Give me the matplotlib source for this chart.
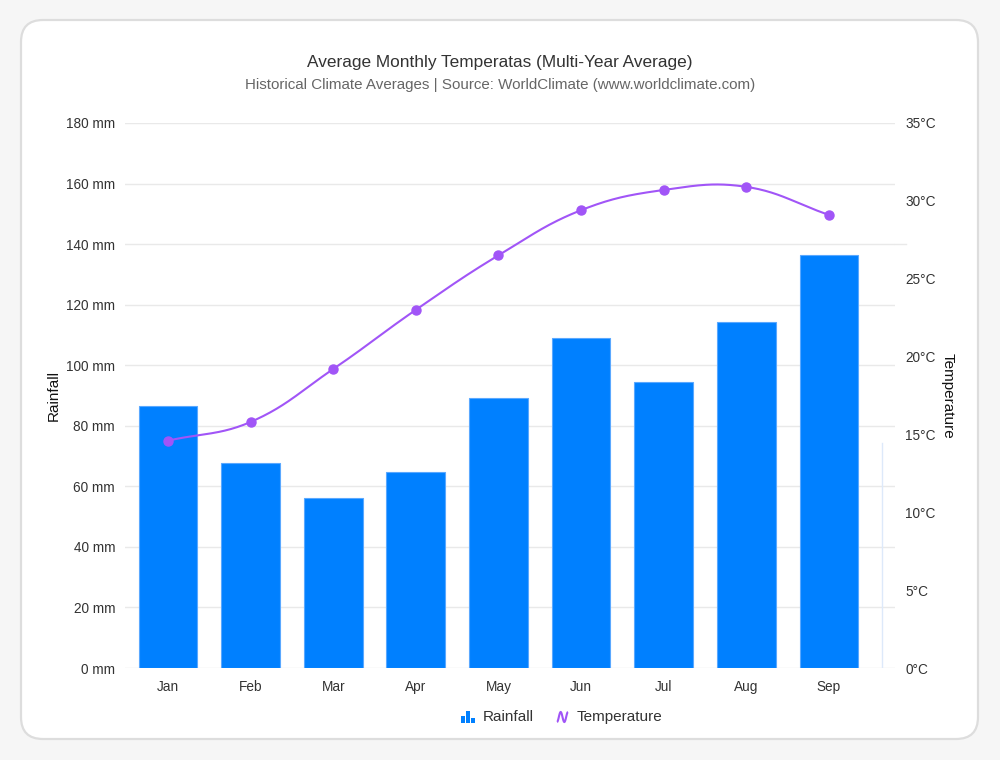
import numpy as np
import matplotlib
matplotlib.use("Agg")
import matplotlib.pyplot as plt
import matplotlib.patches as mpatches
from matplotlib.transforms import IdentityTransform
from matplotlib.path import Path

# ---- data ----
months = ["Jan", "Feb", "Mar", "Apr", "May", "Jun", "Jul", "Aug", "Sep"]
rainfall_mm = [86.5, 67.7, 56.1, 64.7, 89.2, 109.0, 94.5, 114.3, 136.4]
temperature_c = [14.6, 15.8, 19.2, 23.0, 26.5, 29.4, 30.7, 30.9, 29.1]
rain_ticks = [0, 20, 40, 60, 80, 100, 120, 140, 160, 180]
temp_ticks = [0, 5, 10, 15, 20, 25, 30, 35]

title = "Average Monthly Temperatas (Multi-Year Average)"
subtitle = "Historical Climate Averages | Source: WorldClimate (www.worldclimate.com)"

BAR = "#0080ff"
LINE = "#a155f7"
GRID = "#e9e9e9"
TXT = "#333333"

plt.rcParams['font.family'] = ['Liberation Sans', 'DejaVu Sans']

W, H = 1000, 760
fig = plt.figure(figsize=(W / 100, H / 100), dpi=100)
fig.patch.set_facecolor("#f6f6f6")

card = mpatches.FancyBboxPatch((21, 21), 957, 719,
                               boxstyle="round,pad=0,rounding_size=22",
                               transform=IdentityTransform(),
                               facecolor="white", edgecolor="#dddddd", lw=1.6, zorder=-5)
fig.patches.append(card)

L, R, B, T = 125, 895, 668, 123
ax = fig.add_axes([L / W, 1 - B / H, (R - L) / W, (B - T) / H])
ax.set_facecolor("none")
ax2 = ax.twinx()
ax2.set_facecolor("none")

x = np.arange(len(months))
ax.set_xlim(-0.52, 8.80)
ax.set_ylim(0, 180)
ax2.set_ylim(0, 35)

ax.bar(x, rainfall_mm, width=0.71, color=BAR, edgecolor="#5aa8ff", lw=0.8, zorder=2)

ax.set_yticks(rain_ticks)
ax.set_yticklabels([f"{v} mm" for v in rain_ticks])
ax2.set_yticks(temp_ticks)
ax2.set_yticklabels([f"{v}°C" for v in temp_ticks])
ax.set_xticks(x)
ax.set_xticklabels(months)

for a in (ax, ax2):
    for s in a.spines.values():
        s.set_visible(False)
    a.tick_params(length=0, labelsize=9.8, colors=TXT)
ax.tick_params(axis="y", pad=7.2)
ax.tick_params(axis="x", pad=8.8)
ax2.tick_params(axis="y", pad=7.2)

ax.grid(axis="y", color=GRID, lw=1)
ax.set_axisbelow(True)

# small rendering artifacts present in the reference
ax.plot([8.80, 8.93], [140, 140], color=GRID, lw=1, clip_on=False, zorder=1)
ax.plot([8.64, 8.64], [0, 74.3], color="#dde9fa", lw=1, zorder=1)

ax.set_ylabel("Rainfall", fontsize=11, color="#111111", labelpad=3.5)
ax2.set_ylabel("Temperature", fontsize=11, color="#111111", rotation=-90, labelpad=14)

# Chart.js style spline (tension 0.4) computed in pixel space
tension = 0.4
pts = ax2.transData.transform(np.column_stack([x, temperature_c]))
n = len(pts)
cps = []
for i in range(n):
    prev = pts[i - 1] if i > 0 else pts[i]
    cur = pts[i]
    nxt = pts[i + 1] if i < n - 1 else pts[i]
    d01 = np.hypot(*(cur - prev))
    d12 = np.hypot(*(nxt - cur))
    tot = d01 + d12
    s01 = d01 / tot if tot else 0
    s12 = d12 / tot if tot else 0
    fa, fb = tension * s01, tension * s12
    cps.append((cur - fa * (nxt - prev), cur + fb * (nxt - prev)))
curve = []
tt = np.linspace(0, 1, 40)[:, None]
for i in range(n - 1):
    p0, p3 = pts[i], pts[i + 1]
    p1, p2 = cps[i][1], cps[i + 1][0]
    c = ((1 - tt) ** 3) * p0 + 3 * ((1 - tt) ** 2) * tt * p1 + 3 * (1 - tt) * tt ** 2 * p2 + tt ** 3 * p3
    curve.append(c if i == 0 else c[1:])
curve = np.vstack(curve)
curve_data = ax2.transData.inverted().transform(curve)
ax2.plot(curve_data[:, 0], curve_data[:, 1], color=LINE, lw=1.5, zorder=3)
ax2.plot(x, temperature_c, "o", color=LINE, ms=6.5, zorder=4)

# titles
fig.text(0.5, 1 - 62 / H, title, ha="center", va="center", fontsize=12.4, color=TXT)
fig.text(0.5, 1 - 85.5 / H, subtitle, ha="center", va="center", fontsize=10.9, color="#666666")

# legend (custom)
ly = 1 - 717 / H
for bx, bh in [(461, 7), (466, 12), (471, 5)]:
    fig.patches.append(mpatches.Rectangle((bx, H - 723), 4, bh, transform=IdentityTransform(),
                                          facecolor=BAR, edgecolor="none"))
fig.text(483 / W, ly, "Rainfall", ha="left", va="center", fontsize=11, color=TXT)
wx = np.linspace(0, 1, 40)
wave = np.column_stack([557 + wx * 11, (H - 717) - 5 * np.cos(3 * np.pi * wx)])
fig.add_artist(mpatches.PathPatch(Path(wave), transform=IdentityTransform(),
                                  edgecolor=LINE, facecolor="none", lw=1.5))
fig.text(577 / W, ly, "Temperature", ha="left", va="center", fontsize=11, color=TXT)

fig.savefig("out.png", dpi=100, facecolor=fig.get_facecolor())
